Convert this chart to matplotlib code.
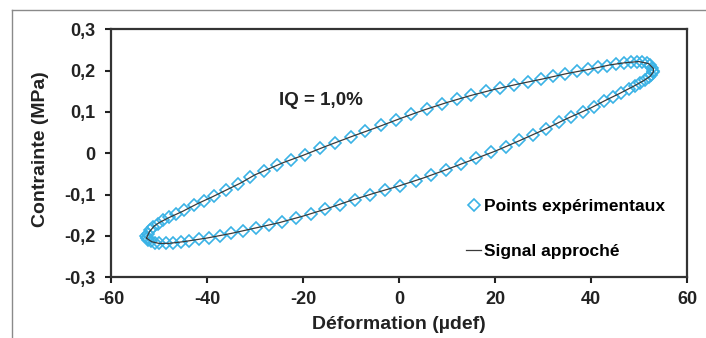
import matplotlib
matplotlib.use("Agg")
import matplotlib.pyplot as plt
from matplotlib.lines import Line2D

plt.rcParams['font.family'] = ['Liberation Sans', 'DejaVu Sans']
plt.rcParams['font.weight'] = 'bold'
plt.rcParams['axes.unicode_minus'] = False

# points expérimentaux : branche montante puis descendante
pts_x = [-52.5, -52.3, -51.8, -51.2, -50.3, -49.2, -47.9, -46.4, -44.7, -42.8,
         -40.7, -38.5, -36.1, -33.6, -31.0, -28.2, -25.4, -22.5, -19.5, -16.4,
         -13.3, -10.1, -7.0, -3.8, -0.6, 2.6, 5.8, 8.9, 12.0, 15.1,
         18.1, 21.1, 24.0, 26.8, 29.5, 32.1, 34.6, 37.0, 39.3, 41.4,
         43.4, 45.2, 46.8, 48.3, 49.6, 50.7, 51.6, 52.3, 52.8, 53.0,
         52.9, 52.6, 52.0, 51.3, 50.3, 49.2, 47.9, 46.3, 44.6, 42.7,
         40.6, 38.3, 35.9, 33.4, 30.7, 27.9, 25.1, 22.2, 19.2, 16.1,
         13.0, 9.8, 6.7, 3.5, 0.3, -2.9, -6.1, -9.2, -12.3, -15.4,
         -18.4, -21.4, -24.3, -27.1, -29.8, -32.4, -34.9, -37.3, -39.6, -41.7,
         -43.7, -45.5, -47.1, -48.6, -49.9, -50.9, -51.7, -52.3, -52.6, -52.7]
pts_y = [-0.205, -0.195, -0.186, -0.178, -0.170, -0.162, -0.155, -0.146, -0.137, -0.126,
         -0.115, -0.103, -0.090, -0.075, -0.058, -0.042, -0.028, -0.016, -0.003, 0.012,
         0.026, 0.040, 0.053, 0.068, 0.081, 0.094, 0.107, 0.119, 0.131, 0.141,
         0.150, 0.158, 0.166, 0.172, 0.179, 0.186, 0.192, 0.198, 0.203, 0.208,
         0.212, 0.216, 0.219, 0.221, 0.222, 0.222, 0.219, 0.214, 0.207, 0.200,
         0.196, 0.190, 0.184, 0.178, 0.171, 0.164, 0.156, 0.147, 0.137, 0.126,
         0.112, 0.099, 0.087, 0.075, 0.060, 0.045, 0.031, 0.016, 0.002, -0.012,
         -0.026, -0.040, -0.053, -0.066, -0.078, -0.089, -0.101, -0.112, -0.124, -0.135,
         -0.146, -0.157, -0.166, -0.174, -0.181, -0.188, -0.194, -0.199, -0.204, -0.208,
         -0.212, -0.215, -0.217, -0.218, -0.218, -0.216, -0.213, -0.209, -0.204, -0.199]

# signal approché
fit_x = [-52.6, -52.0, -51.0, -50.0, -48.0, -45.0, -42.0, -39.0, -36.0, -33.0,
         -30.0, -27.0, -24.0, -20.0, -15.0, -10.0, -5.0, 0.0, 5.0, 10.0,
         15.0, 20.0, 25.0, 30.0, 35.0, 40.0, 44.0, 47.0, 50.0, 52.0,
         53.0, 53.0, 52.3, 51.0, 49.0, 46.0, 43.0, 40.0, 35.0, 30.0,
         25.0, 20.0, 15.0, 10.0, 5.0, 0.0, -5.0, -10.0, -15.0, -20.0,
         -25.0, -30.0, -35.0, -40.0, -45.0, -48.0, -50.0, -51.5, -52.4, -52.6]
fit_y = [-0.205, -0.190, -0.176, -0.168, -0.156, -0.140, -0.122, -0.106, -0.089, -0.072,
         -0.052, -0.037, -0.022, -0.005, 0.018, 0.040, 0.061, 0.083, 0.104, 0.123,
         0.140, 0.155, 0.168, 0.180, 0.193, 0.204, 0.214, 0.219, 0.222, 0.217,
         0.205, 0.197, 0.186, 0.176, 0.163, 0.145, 0.128, 0.110, 0.084, 0.056,
         0.030, 0.005, -0.017, -0.039, -0.060, -0.079, -0.096, -0.114, -0.134, -0.152,
         -0.168, -0.181, -0.194, -0.205, -0.214, -0.218, -0.218, -0.214, -0.207, -0.205]

xticks = [-60, -40, -20, 0, 20, 40, 60]
yticks = [-0.3, -0.2, -0.1, 0.0, 0.1, 0.2, 0.3]
ytick_labels = ['-0,3', '-0,2', '-0,1', '0', '0,1', '0,2', '0,3']

fig = plt.figure(figsize=(7.06, 3.38), dpi=100)
ax = fig.add_axes([0.1572, 0.1796, 0.8159, 0.7337])

ax.plot(pts_x, pts_y, linestyle='none', marker='D', markersize=6.3,
        markerfacecolor='none', markeredgecolor='#3ab3e6', markeredgewidth=1.2,
        label='Points expérimentaux')
ax.plot(fit_x, fit_y, color='#3a3a3a', lw=0.9, label='Signal approché')

ax.set_xlim(-60, 60)
ax.set_ylim(-0.3, 0.3)
ax.set_xticks(xticks)
ax.set_yticks(yticks)
ax.set_yticklabels(ytick_labels)
ax.tick_params(direction='out', length=4, width=1.5, labelsize=13, colors='#222222')
ax.tick_params(axis='x', pad=6)
ax.tick_params(axis='y', pad=7)
for sp in ax.spines.values():
    sp.set_linewidth(1.6)
    sp.set_color('#333333')

ax.set_xlabel('Déformation (µdef)', fontsize=14, fontweight='bold', color='#222222')
ax.set_ylabel('Contrainte (MPa)', fontsize=14, fontweight='bold', color='#222222')
ax.xaxis.set_label_coords(0.5, -0.158)
ax.yaxis.set_label_coords(-0.108, 0.515)

ax.text(-25.0, 0.128, 'IQ = 1,0%', fontsize=13.5, fontweight='bold',
        color='#222222', va='center')

ax.legend(loc='upper left', bbox_to_anchor=(0.616, 0.318), frameon=False,
          fontsize=12.5, handlelength=0.9, handletextpad=0.15,
          labelspacing=1.75, borderaxespad=0, borderpad=0)

# cadre gris autour de la figure
fig.add_artist(Line2D([12 / 706, 12 / 706], [0, 1 - 10 / 338], color='#8a8a8a', lw=1))
fig.add_artist(Line2D([12 / 706, 705 / 706], [1 - 10 / 338, 1 - 10 / 338], color='#8a8a8a', lw=1))

fig.savefig('out.png', dpi=100)
